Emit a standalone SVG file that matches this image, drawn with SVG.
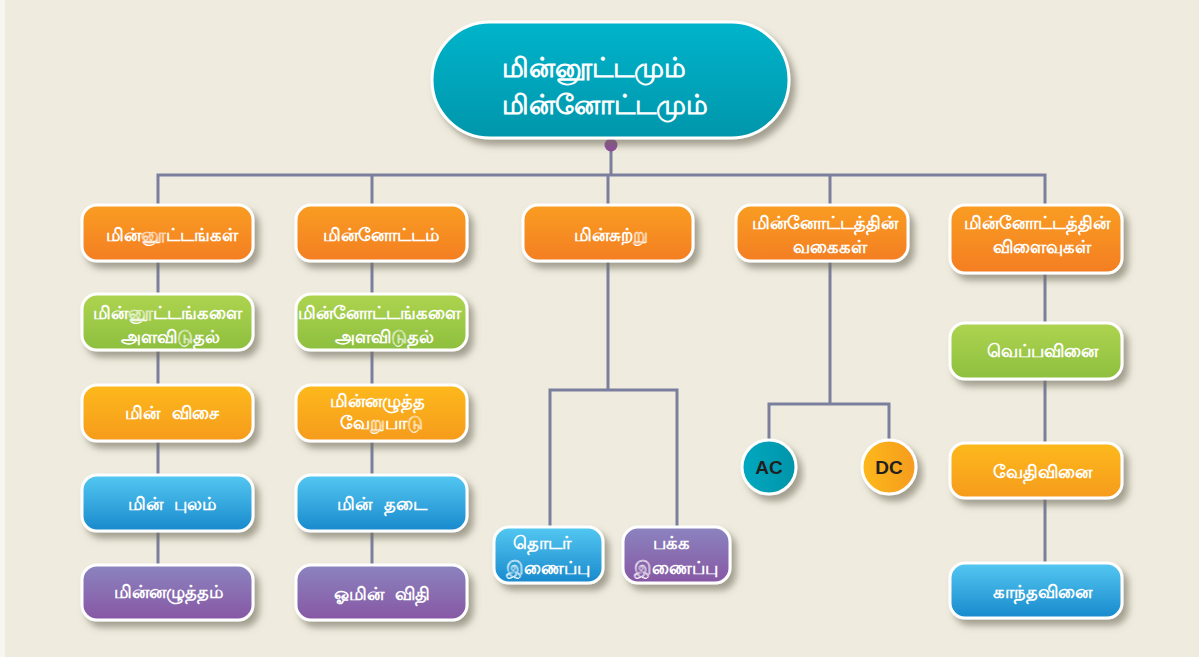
<svg xmlns="http://www.w3.org/2000/svg" width="1199" height="657" viewBox="0 0 1199 657">
<defs>
<linearGradient id="gTeal" x1="0" y1="0" x2="0" y2="1"><stop offset="0" stop-color="#00B4CB"/><stop offset="1" stop-color="#0096AB"/></linearGradient>
<linearGradient id="gTealH" x1="0" y1="0" x2="1" y2="0"><stop offset="0" stop-color="#00A9C0"/><stop offset="1" stop-color="#0094A9"/></linearGradient>
<linearGradient id="gOrange" x1="0" y1="0" x2="0" y2="1"><stop offset="0" stop-color="#F99D22"/><stop offset="1" stop-color="#F47E20"/></linearGradient>
<linearGradient id="gGreen" x1="0" y1="0" x2="0" y2="1"><stop offset="0" stop-color="#AED450"/><stop offset="1" stop-color="#8DBF3E"/></linearGradient>
<linearGradient id="gYellow" x1="0" y1="0" x2="0" y2="1"><stop offset="0" stop-color="#FDB91C"/><stop offset="1" stop-color="#F69B1F"/></linearGradient>
<linearGradient id="gYellowH" x1="0" y1="0" x2="1" y2="0"><stop offset="0" stop-color="#FDB91C"/><stop offset="1" stop-color="#F59B20"/></linearGradient>
<linearGradient id="gBlue" x1="0" y1="0" x2="0" y2="1"><stop offset="0" stop-color="#54C8F2"/><stop offset="1" stop-color="#1889CC"/></linearGradient>
<linearGradient id="gPurple" x1="0" y1="0" x2="0" y2="1"><stop offset="0" stop-color="#8B84BF"/><stop offset="1" stop-color="#8757A4"/></linearGradient>
<filter id="sh" x="-10%" y="-10%" width="130%" height="140%">
<feDropShadow dx="5" dy="6" stdDeviation="3.5" flood-color="#6f6d5c" flood-opacity="0.6"/>
</filter>
</defs>
<style>
.box{stroke:#ffffff;stroke-width:3;filter:url(#sh)}
.t{font-family:"Noto Sans","DejaVu Sans",sans-serif;font-weight:bold;font-size:18px;fill:#ffffff;text-anchor:middle}
.ws{word-spacing:7px}
.tt{font-family:"Noto Sans","DejaVu Sans",sans-serif;font-weight:bold;font-size:27px;fill:#ffffff;text-anchor:start}
.ct{font-family:"Liberation Sans",Arial,sans-serif;font-weight:bold;font-size:19px;fill:#231F20;text-anchor:middle}
.ln{stroke:#7B7F9D;stroke-width:3;fill:none}
</style>
<rect width="1199" height="657" fill="#EFECDF"/>
<rect width="5" height="657" fill="#F7F6F0"/>

<g id="connectors">
<line class="ln" x1="611" y1="146" x2="611" y2="175"/>
<polyline class="ln" points="158,205 158,175 1045,175 1045,205"/>
<line class="ln" x1="372" y1="175" x2="372" y2="205"/>
<line class="ln" x1="608" y1="175" x2="608" y2="205"/>
<line class="ln" x1="830" y1="175" x2="830" y2="205"/>
<line class="ln" x1="158" y1="261" x2="158" y2="565"/>
<line class="ln" x1="372" y1="261" x2="372" y2="565"/>
<line class="ln" x1="1045" y1="273" x2="1045" y2="563"/>
<line class="ln" x1="608" y1="261" x2="608" y2="390"/>
<polyline class="ln" points="550,526 550,390 677,390 677,526"/>
<line class="ln" x1="830" y1="261" x2="830" y2="404"/>
<polyline class="ln" points="769,440 769,404 889,404 889,440"/>
<circle cx="611" cy="145" r="6.5" fill="#8E4A9B"/>
</g>

<g id="root">
<rect class="box" x="432" y="22" width="357" height="116" rx="58" fill="url(#gTeal)"/>
<text class="tt" x="502" y="77">மின்னூட்டமும்</text>
<text class="tt" x="502" y="114">மின்னோட்டமும்</text>
</g>

<g id="n-minnoottangal">
<rect class="box" x="82" y="205" width="171" height="56" rx="15" fill="url(#gOrange)"/>
<text class="t" x="172" y="241">மின்னூட்டங்கள்</text>
</g>
<g id="n-minnottam">
<rect class="box" x="296" y="205" width="171" height="56" rx="15" fill="url(#gOrange)"/>
<text class="t" x="381" y="241">மின்னோட்டம்</text>
</g>
<g id="n-minsutru">
<rect class="box" x="523" y="205" width="170" height="56" rx="15" fill="url(#gOrange)"/>
<text class="t" x="611" y="241">மின்சுற்று</text>
</g>
<g id="n-vagaigal">
<rect class="box" x="736" y="205" width="172" height="56" rx="15" fill="url(#gOrange)"/>
<text class="t" x="825" y="229">மின்னோட்டத்தின்</text>
<text class="t" x="830" y="253">வகைகள்</text>
</g>
<g id="n-vilaivugal">
<rect class="box" x="950" y="205" width="172" height="68" rx="15" fill="url(#gOrange)"/>
<text class="t" x="1037" y="229">மின்னோட்டத்தின்</text>
<text class="t" x="1042" y="253">விளைவுகள்</text>
</g>

<g id="n-alavu1">
<rect class="box" x="82" y="294" width="171" height="56" rx="15" fill="url(#gGreen)"/>
<text class="t" x="167" y="319">மின்னூட்டங்களை</text>
<text class="t" x="170" y="343">அளவிடுதல்</text>
</g>
<g id="n-alavu2">
<rect class="box" x="296" y="294" width="171" height="56" rx="15" fill="url(#gGreen)"/>
<text class="t" x="379" y="319">மின்னோட்டங்களை</text>
<text class="t" x="384" y="343">அளவிடுதல்</text>
</g>
<g id="n-veppavinai">
<rect class="box" x="950" y="323" width="172" height="56" rx="15" fill="url(#gGreen)"/>
<text class="t" x="1042" y="357">வெப்பவினை</text>
</g>

<g id="n-visai">
<rect class="box" x="82" y="385" width="171" height="56" rx="15" fill="url(#gYellow)"/>
<text class="t ws" x="172" y="419">மின் விசை</text>
</g>
<g id="n-verupaadu">
<rect class="box" x="296" y="385" width="171" height="56" rx="15" fill="url(#gYellow)"/>
<text class="t" x="377" y="407">மின்னழுத்த</text>
<text class="t" x="381" y="429">வேறுபாடு</text>
</g>
<g id="n-vedhivinai">
<rect class="box" x="950" y="443" width="172" height="55" rx="15" fill="url(#gYellow)"/>
<text class="t" x="1042" y="478">வேதிவினை</text>
</g>

<g id="n-pulam">
<rect class="box" x="82" y="475" width="171" height="56" rx="15" fill="url(#gBlue)"/>
<text class="t ws" x="172" y="510">மின் புலம்</text>
</g>
<g id="n-thadai">
<rect class="box" x="296" y="475" width="171" height="56" rx="15" fill="url(#gBlue)"/>
<text class="t ws" x="382" y="510">மின் தடை</text>
</g>
<g id="n-kaanthavinai">
<rect class="box" x="950" y="563" width="172" height="55" rx="15" fill="url(#gBlue)"/>
<text class="t" x="1042" y="598">காந்தவினை</text>
</g>

<g id="n-minnazhuththam">
<rect class="box" x="82" y="565" width="171" height="55" rx="15" fill="url(#gPurple)"/>
<text class="t" x="168" y="598">மின்னழுத்தம்</text>
</g>
<g id="n-ohm">
<rect class="box" x="296" y="565" width="171" height="55" rx="15" fill="url(#gPurple)"/>
<text class="t ws" x="382" y="600">ஓமின் விதி</text>
</g>

<g id="n-thodar">
<rect class="box" x="494" y="527" width="109" height="56" rx="15" fill="url(#gBlue)"/>
<text class="t" x="542" y="549">தொடர்</text>
<text class="t" x="548" y="574">இணைப்பு</text>
</g>
<g id="n-pakka">
<rect class="box" x="623" y="527" width="107" height="56" rx="15" fill="url(#gPurple)"/>
<text class="t" x="671" y="549">பக்க</text>
<text class="t" x="676" y="574">இணைப்பு</text>
</g>

<g id="n-ac">
<circle class="box" cx="769" cy="467" r="27" fill="url(#gTealH)"/>
<text class="ct" x="769" y="474">AC</text>
</g>
<g id="n-dc">
<circle class="box" cx="889" cy="467" r="27" fill="url(#gYellowH)"/>
<text class="ct" x="889" y="474">DC</text>
</g>
</svg>
